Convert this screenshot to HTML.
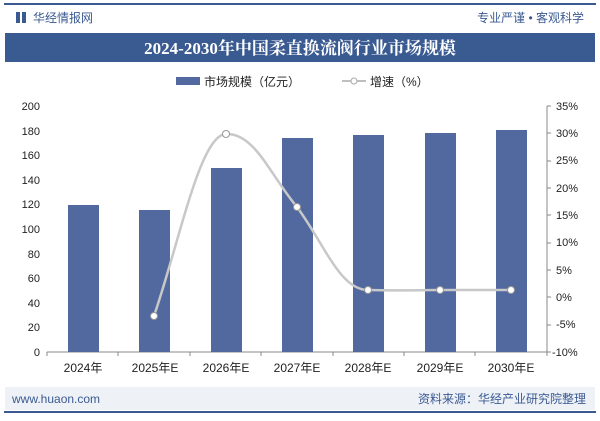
<!DOCTYPE html><html><head><meta charset="utf-8"><style>
body{margin:0;width:600px;height:416px;background:#fff;overflow:hidden;font-family:"Liberation Sans","Noto Sans CJK SC",sans-serif}
</style></head><body>
<svg width="600" height="416" xmlns="http://www.w3.org/2000/svg" font-family="Liberation Sans, Noto Sans CJK SC, sans-serif">
<rect x="4" y="3" width="592" height="2" fill="#3b5a92"/>
<rect x="16" y="12" width="4" height="11" fill="#3b5a92"/><rect x="22" y="12" width="4" height="11" fill="#3b5a92"/>
<text x="33" y="22" font-size="12" fill="#3b5a92">华经情报网</text>
<text x="584" y="22" font-size="12" fill="#3b5a92" text-anchor="end">专业严谨 • 客观科学</text>
<rect x="5" y="33" width="590" height="29" fill="#3a5a92"/>
<text x="300" y="54" font-size="17" font-weight="bold" fill="#fff" text-anchor="middle" font-family="Liberation Serif, Noto Serif CJK SC, serif">2024-2030年中国柔直换流阀行业市场规模</text>
<rect x="176" y="77" width="24" height="8" fill="#51699f"/>
<text x="204" y="86" font-size="12" fill="#222">市场规模（亿元）</text>
<line x1="342" y1="81" x2="366" y2="81" stroke="#aaa" stroke-width="1.5"/><circle cx="354" cy="81" r="3" fill="#fff" stroke="#aaa"/>
<text x="370" y="86" font-size="12" fill="#222">增速（%）</text>
<g font-size="11" fill="#222" text-anchor="end">
<text x="40" y="110">200</text><text x="40" y="135">180</text><text x="40" y="159">160</text><text x="40" y="184">140</text><text x="40" y="208">120</text><text x="40" y="233">100</text><text x="40" y="258">80</text><text x="40" y="282">60</text><text x="40" y="307">40</text><text x="40" y="331">20</text><text x="40" y="356">0</text>
</g>
<g font-size="11" fill="#222" text-anchor="start">
<text x="556" y="110">35%</text><text x="556" y="137">30%</text><text x="556" y="164">25%</text><text x="556" y="192">20%</text><text x="556" y="219">15%</text><text x="556" y="246">10%</text><text x="556" y="274">5%</text><text x="556" y="301">0%</text><text x="556" y="328">-5%</text><text x="552" y="356">-10%</text>
</g>
<line x1="47" y1="352" x2="547" y2="352" stroke="#888"/>
<line x1="547" y1="106" x2="547" y2="352" stroke="#888"/>
<g stroke="#888"><line x1="47" y1="352" x2="47" y2="356"/><line x1="118" y1="352" x2="118" y2="356"/><line x1="190" y1="352" x2="190" y2="356"/><line x1="261" y1="352" x2="261" y2="356"/><line x1="333" y1="352" x2="333" y2="356"/><line x1="404" y1="352" x2="404" y2="356"/><line x1="475" y1="352" x2="475" y2="356"/><line x1="547" y1="352" x2="547" y2="356"/>
<line x1="547" y1="106" x2="551" y2="106"/><line x1="547" y1="133" x2="551" y2="133"/><line x1="547" y1="161" x2="551" y2="161"/><line x1="547" y1="188" x2="551" y2="188"/><line x1="547" y1="215" x2="551" y2="215"/><line x1="547" y1="243" x2="551" y2="243"/><line x1="547" y1="270" x2="551" y2="270"/><line x1="547" y1="297" x2="551" y2="297"/><line x1="547" y1="325" x2="551" y2="325"/><line x1="547" y1="352" x2="551" y2="352"/></g>
<g fill="#51699f">
<rect x="68" y="205" width="31" height="147"/>
<rect x="139" y="210" width="31" height="142"/>
<rect x="211" y="168" width="31" height="184"/>
<rect x="282" y="138" width="31" height="214"/>
<rect x="353" y="135" width="31" height="217"/>
<rect x="425" y="133" width="31" height="219"/>
<rect x="496" y="130" width="31" height="222"/>
</g>
<path d="M154,316 C180,240 200,135 226,134 C255,133 270,175 297,207 C325,245 340,290 368,290 C400,291 420,290 440,290 L511,290" fill="none" stroke="#c8c8c8" stroke-width="2.5"/>
<g fill="#fff" stroke="#999"><circle cx="154" cy="316" r="3.5"/><circle cx="226" cy="134" r="3.5"/><circle cx="297" cy="207" r="3.5"/><circle cx="368" cy="290" r="3.5"/><circle cx="440" cy="290" r="3.5"/><circle cx="511" cy="290" r="3.5"/></g>
<g font-size="12" fill="#222" text-anchor="middle">
<text x="83" y="372">2024年</text><text x="155" y="372">2025年E</text><text x="226" y="372">2026年E</text><text x="297" y="372">2027年E</text><text x="368" y="372">2028年E</text><text x="440" y="372">2029年E</text><text x="511" y="372">2030年E</text>
</g>
<rect x="5" y="387" width="590" height="23" fill="#eef1f6"/>
<text x="12" y="403" font-size="12" fill="#3b5a92">www.huaon.com</text>
<text x="586" y="403" font-size="12" fill="#3b5a92" text-anchor="end">资料来源：华经产业研究院整理</text>
<rect x="4" y="411" width="592" height="2" fill="#3b5a92"/>
</svg>
</body></html>
